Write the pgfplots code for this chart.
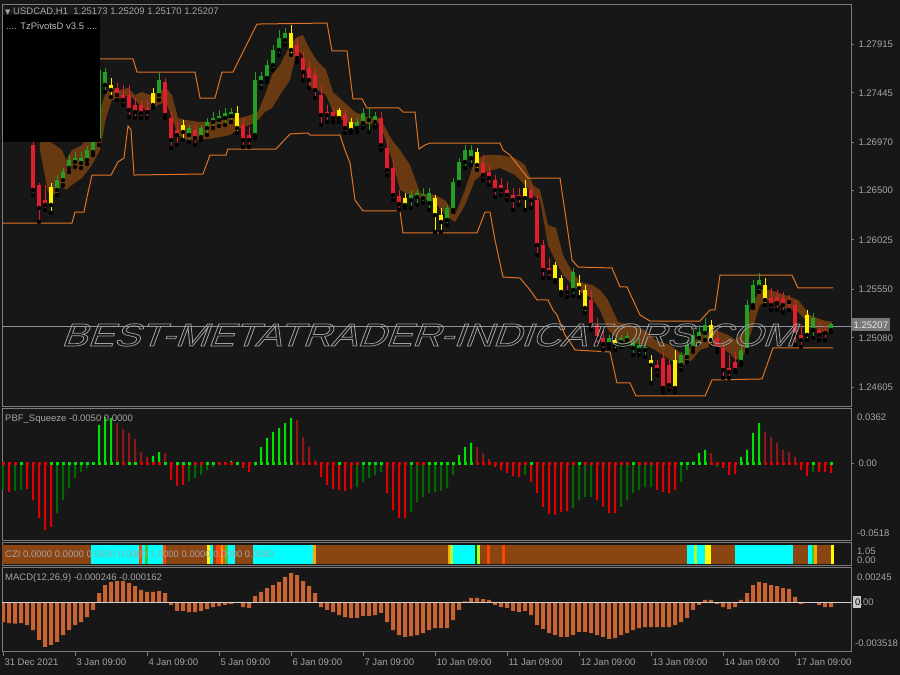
\documentclass[border=0pt]{standalone}
\usepackage{pgfplots}
\pgfplotsset{compat=1.18}
\usepackage{pgfplotstable}
\usepackage{fontspec}
\setmainfont{Liberation Sans}
\newfontfamily\symf{DejaVu Sans}
\newfontfamily\wmfont{Liberation Sans}[FakeSlant=0.3]

\definecolor{bg}{RGB}{23,23,23}
\definecolor{fr}{RGB}{125,125,125}
\definecolor{tx}{RGB}{165,165,165}
\definecolor{cgr}{RGB}{35,160,35}
\definecolor{crd}{RGB}{225,30,45}
\definecolor{cyl}{RGB}{255,240,0}
\definecolor{bandc}{RGB}{105,58,18}
\definecolor{piv}{RGB}{225,115,35}
\definecolor{sqg}{RGB}{0,225,0}
\definecolor{sqdg}{RGB}{0,105,0}
\definecolor{sqr}{RGB}{225,0,0}
\definecolor{sqdr}{RGB}{140,25,25}
\definecolor{macdc}{RGB}{200,100,50}
\definecolor{czb}{RGB}{139,69,19}
\definecolor{czc}{RGB}{0,255,255}
\definecolor{czo}{RGB}{255,69,0}
\definecolor{czor}{RGB}{255,165,0}
\definecolor{czy}{RGB}{255,255,0}
\definecolor{czg}{RGB}{50,205,50}
\definecolor{czdg}{RGB}{0,100,0}
\definecolor{czgy}{RGB}{173,255,47}
\definecolor{wmc}{RGB}{160,160,160}
\definecolor{bidc}{RGB}{140,150,160}
\definecolor{bidbox}{RGB}{120,120,120}
\definecolor{bidtx}{RGB}{235,235,235}
\definecolor{lbox}{RGB}{200,200,200}
\definecolor{pvtx}{RGB}{190,190,190}
\definecolor{zline}{RGB}{210,210,210}

\newcommand\tickfont{\fontsize{9.5bp}{11bp}\selectfont}

% hourly bars, x = hour index from 31 Dec; candles every second hour
\pgfplotstableread{
h o hi lo c k
10 1.26941 1.26989 1.26458 1.26507 0
12 1.26555 1.26574 1.26198 1.26333 0
14 1.26410 1.26555 1.26314 1.26362 0
16 1.26362 1.26574 1.26285 1.26536 2
18 1.26507 1.26651 1.26458 1.26603 1
20 1.26603 1.26719 1.26555 1.26680 1
22 1.26719 1.26844 1.26680 1.26796 1
24 1.26777 1.26873 1.26728 1.26815 1
26 1.26767 1.26873 1.26719 1.26815 1
28 1.26796 1.26931 1.26757 1.26893 1
30 1.26873 1.27037 1.26844 1.26989 1
32 1.26989 1.27742 1.26941 1.27665 1
34 1.27645 1.27684 1.27452 1.27520 1
36 1.27520 1.27587 1.27404 1.27472 2
38 1.27491 1.27539 1.27375 1.27423 0
40 1.27423 1.27520 1.27327 1.27375 0
42 1.27423 1.27520 1.27211 1.27279 0
44 1.27327 1.27394 1.27201 1.27259 0
46 1.27327 1.27375 1.27201 1.27250 0
48 1.27259 1.27375 1.27201 1.27298 0
50 1.27327 1.27491 1.27298 1.27443 2
52 1.27423 1.27636 1.27375 1.27568 1
54 1.27549 1.27587 1.27201 1.27230 0
56 1.27201 1.27259 1.26912 1.26989 0
58 1.27037 1.27163 1.26941 1.27086 0
60 1.27066 1.27182 1.26989 1.27134 2
62 1.27037 1.27134 1.26970 1.27105 1
64 1.27086 1.27134 1.26941 1.27008 0
66 1.27018 1.27134 1.26989 1.27105 1
68 1.27105 1.27201 1.27037 1.27163 1
70 1.27163 1.27259 1.27105 1.27201 1
72 1.27182 1.27279 1.27124 1.27221 1
74 1.27201 1.27298 1.27134 1.27250 1
76 1.27221 1.27298 1.27163 1.27259 1
78 1.27250 1.27317 1.27057 1.27105 2
80 1.27134 1.27201 1.26921 1.26989 0
82 1.26989 1.27115 1.26921 1.27037 0
84 1.27037 1.27645 1.27008 1.27568 1
86 1.27549 1.27645 1.27491 1.27607 1
88 1.27587 1.27761 1.27549 1.27713 1
90 1.27713 1.27906 1.27665 1.27858 1
92 1.27858 1.28051 1.27809 1.27973 1
94 1.27954 1.28070 1.27906 1.28022 1
96 1.28022 1.28099 1.27809 1.27858 2
98 1.27906 1.27973 1.27742 1.27780 0
100 1.27780 1.27838 1.27568 1.27645 0
102 1.27684 1.27761 1.27491 1.27568 0
104 1.27616 1.27684 1.27394 1.27472 0
106 1.27423 1.27520 1.27134 1.27230 0
108 1.27230 1.27327 1.27163 1.27259 0
110 1.27259 1.27298 1.27163 1.27201 0
112 1.27201 1.27298 1.27163 1.27279 2
114 1.27230 1.27279 1.27057 1.27105 0
116 1.27086 1.27201 1.27057 1.27163 2
118 1.27105 1.27201 1.27066 1.27163 1
120 1.27153 1.27298 1.27105 1.27250 1
122 1.27201 1.27298 1.27066 1.27182 1
124 1.27163 1.27259 1.27115 1.27221 1
126 1.27201 1.27259 1.26893 1.26941 0
128 1.26912 1.26989 1.26651 1.26700 0
130 1.26719 1.26796 1.26410 1.26458 0
132 1.26449 1.26507 1.26314 1.26371 0
134 1.26362 1.26478 1.26333 1.26429 2
136 1.26410 1.26507 1.26333 1.26458 1
138 1.26439 1.26507 1.26362 1.26478 1
140 1.26429 1.26526 1.26381 1.26458 1
142 1.26381 1.26526 1.26314 1.26478 1
144 1.26429 1.26458 1.26101 1.26265 2
146 1.26265 1.26333 1.26101 1.26198 2
148 1.26217 1.26362 1.26169 1.26333 1
150 1.26314 1.26622 1.26294 1.26584 1
152 1.26584 1.26815 1.26555 1.26777 1
154 1.26777 1.26941 1.26719 1.26893 1
156 1.26815 1.26941 1.26748 1.26893 1
158 1.26873 1.26912 1.26700 1.26748 2
160 1.26767 1.26844 1.26603 1.26651 0
162 1.26680 1.26748 1.26555 1.26622 0
164 1.26603 1.26651 1.26439 1.26507 0
166 1.26555 1.26622 1.26458 1.26507 0
168 1.26507 1.26584 1.26410 1.26458 0
170 1.26458 1.26526 1.26314 1.26410 0
172 1.26458 1.26526 1.26362 1.26429 0
174 1.26429 1.26603 1.26314 1.26526 2
176 1.26507 1.26555 1.26333 1.26410 0
178 1.26410 1.26458 1.25879 1.25976 0
180 1.25976 1.26024 1.25657 1.25735 0
182 1.25754 1.25850 1.25657 1.25715 0
184 1.25783 1.25812 1.25619 1.25638 2
186 1.25657 1.25686 1.25493 1.25522 2
188 1.25522 1.25590 1.25474 1.25542 0
190 1.25542 1.25754 1.25484 1.25715 1
192 1.25609 1.25686 1.25474 1.25561 2
194 1.25542 1.25590 1.25320 1.25368 2
196 1.25445 1.25542 1.25156 1.25204 0
198 1.25204 1.25271 1.25011 1.25079 0
200 1.25079 1.25156 1.24963 1.25020 0
202 1.25020 1.25108 1.24982 1.25079 1
204 1.25011 1.25079 1.24963 1.25059 2
206 1.25040 1.25108 1.24992 1.25079 1
208 1.25059 1.25136 1.25011 1.25098 1
210 1.24982 1.25079 1.24914 1.25040 1
212 1.25011 1.25079 1.24914 1.24963 1
214 1.24963 1.25040 1.24895 1.24992 1
216 1.24866 1.24914 1.24644 1.24818 2
218 1.24818 1.24866 1.24721 1.24770 0
220 1.24885 1.24943 1.24557 1.24596 0
222 1.24818 1.24866 1.24577 1.24625 0
224 1.24596 1.24963 1.24557 1.24866 2
226 1.24818 1.24943 1.24770 1.24914 1
228 1.24895 1.25059 1.24847 1.25011 1
230 1.24982 1.25156 1.24943 1.25108 1
232 1.25079 1.25204 1.25011 1.25136 1
234 1.25127 1.25271 1.25059 1.25204 1
236 1.25204 1.25252 1.25011 1.25059 2
238 1.25079 1.25156 1.24943 1.24982 0
240 1.24982 1.25059 1.24692 1.24770 0
242 1.24789 1.24914 1.24692 1.24750 0
244 1.24770 1.24943 1.24750 1.24847 0
246 1.24847 1.25011 1.24818 1.24963 1
248 1.24963 1.25445 1.24943 1.25397 1
250 1.25397 1.25638 1.25368 1.25590 1
252 1.25571 1.25706 1.25522 1.25638 1
254 1.25590 1.25657 1.25397 1.25445 2
256 1.25464 1.25561 1.25349 1.25397 0
258 1.25416 1.25542 1.25349 1.25474 0
260 1.25464 1.25522 1.25329 1.25397 0
262 1.25426 1.25493 1.25349 1.25445 0
264 1.25397 1.25445 1.25011 1.25108 0
266 1.25108 1.25204 1.24992 1.25059 0
268 1.25108 1.25349 1.25059 1.25300 2
270 1.25271 1.25320 1.25079 1.25156 1
272 1.25156 1.25233 1.25059 1.25108 0
274 1.25127 1.25204 1.25059 1.25156 0
276 1.25156 1.25223 1.25136 1.25207 1
}\candles

% cloud band outline: upper edge left to right, then lower edge right to left
\pgfplotstableread{
h p
12.33 1.26989
15 1.26989
17.33 1.26941
19.67 1.26893
21 1.26796
23 1.26893
26.33 1.26941
29.67 1.27086
32.33 1.27279
34.33 1.27452
36.33 1.27491
39 1.27472
41.67 1.27491
44 1.27423
46.33 1.27452
49 1.27423
51.67 1.27452
54.33 1.27491
56.33 1.27423
58.33 1.27201
61 1.27182
65.67 1.27163
70.67 1.27163
75.67 1.27201
79 1.27201
82.33 1.27230
85 1.27259
87.33 1.27423
89.67 1.27616
92.33 1.27713
95.67 1.27906
98 1.27983
100 1.28002
102.33 1.27858
105 1.27742
107.67 1.27665
110 1.27452
114 1.27346
117.33 1.27259
120.67 1.27211
125.67 1.27201
129.67 1.26989
132.33 1.26893
135.67 1.26748
139 1.26478
144 1.26458
147.33 1.26410
150.67 1.26265
154 1.26507
157.33 1.26796
160.67 1.26844
165.67 1.26844
170.67 1.26815
174 1.26748
176.67 1.26555
179 1.26507
181.67 1.26169
184.33 1.26140
186.67 1.25879
189 1.25754
192.33 1.25619
196.33 1.25590
199 1.25542
201.67 1.25445
205 1.25233
209 1.25204
214 1.25156
217.33 1.25059
222.33 1.25011
226.67 1.24914
229.67 1.25011
232.33 1.25108
237.33 1.25156
241.67 1.25108
244.33 1.25059
247 1.25156
249.67 1.25397
252.33 1.25542
255.67 1.25542
260.67 1.25493
265 1.25445
269 1.25300
273 1.25252
276.33 1.25233
276.33 1.25136
273 1.25136
269 1.25204
265 1.25329
260.67 1.25368
255.67 1.25445
252.33 1.25397
249.67 1.25156
247 1.24914
244.33 1.24866
241.67 1.24943
237.33 1.25011
232.33 1.24963
229.67 1.24866
226.67 1.24818
222.33 1.24866
217.33 1.24963
214 1.25011
209 1.25030
205 1.25059
201.67 1.25156
199 1.25349
196.33 1.25464
192.33 1.25522
189 1.25619
186.67 1.25686
184.33 1.25812
181.67 1.25976
179 1.26410
176.67 1.26458
174 1.26555
170.67 1.26651
165.67 1.26719
160.67 1.26680
157.33 1.26603
154 1.26362
150.67 1.26198
147.33 1.26265
144 1.26391
139 1.26429
135.67 1.26458
132.33 1.26507
129.67 1.26796
125.67 1.27153
120.67 1.27143
117.33 1.27134
114 1.27163
110 1.27259
107.67 1.27423
105 1.27472
102.33 1.27491
100 1.27809
98 1.27858
95.67 1.27568
92.33 1.27423
89.67 1.27298
87.33 1.27259
85 1.27182
82.33 1.27134
79 1.27105
75.67 1.27037
70.67 1.27008
65.67 1.26989
61 1.26989
58.33 1.27037
56.33 1.27201
54.33 1.27356
51.67 1.27327
49 1.27279
46.33 1.27298
44 1.27375
41.67 1.27423
39 1.27394
36.33 1.27375
34.33 1.27201
32.33 1.26893
29.67 1.26748
26.33 1.26622
23 1.26555
21 1.26507
19.67 1.26555
17.33 1.26458
15 1.26487
12.33 1.26893
}\band

% squeeze: v value, k colour (0 green,1 dark green,2 red,3 dark red), d dot (1 green,0 red)
\pgfplotstableread{
h v k d
0 -0.0184 1 0
2 -0.0198 2 0
4 -0.0190 1 0
6 -0.0184 1 1
8 -0.0178 2 0
10 -0.0253 2 0
12 -0.0376 2 0
14 -0.0458 2 0
16 -0.0437 2 1
18 -0.0342 1 1
20 -0.0253 1 1
22 -0.0171 1 1
24 -0.0102 1 1
26 -0.0061 1 1
28 -0.0034 1 1
30 -0.0007 1 1
32 0.0260 0 1
34 0.0314 0 1
36 0.0307 0 1
38 0.0273 3 1
40 0.0232 3 0
42 0.0205 3 1
44 0.0164 3 1
46 0.0075 3 0
48 0.0041 3 0
50 0.0048 0 0
52 0.0075 0 0
54 0.0068 3 1
56 -0.0116 2 0
58 -0.0157 2 1
60 -0.0150 2 1
62 -0.0123 1 1
64 -0.0102 1 0
66 -0.0082 1 0
68 -0.0048 1 1
70 -0.0027 1 1
72 -0.0010 1 0
74 0.0007 0 0
76 0.0014 0 0
78 -0.0014 2 1
80 -0.0034 2 0
82 -0.0061 2 0
84 -0.0020 1 1
86 0.0109 0 1
88 0.0171 0 1
90 0.0212 0 1
92 0.0239 0 1
94 0.0273 0 1
96 0.0307 0 1
98 0.0294 3 0
100 0.0178 3 0
102 0.0109 3 0
104 0.0020 3 0
106 -0.0096 2 0
108 -0.0150 2 0
110 -0.0178 2 0
112 -0.0184 2 1
114 -0.0191 2 0
116 -0.0178 2 0
118 -0.0164 1 0
120 -0.0130 1 1
122 -0.0102 1 1
124 -0.0082 1 1
126 -0.0061 1 1
128 -0.0205 2 0
130 -0.0321 2 0
132 -0.0376 2 0
134 -0.0376 2 0
136 -0.0335 1 1
138 -0.0266 1 0
140 -0.0232 1 0
142 -0.0205 1 1
144 -0.0198 1 1
146 -0.0191 1 1
148 -0.0171 1 1
150 -0.0082 1 1
152 0.0055 0 1
154 0.0109 0 1
156 0.0137 0 1
158 0.0109 3 0
160 0.0068 3 0
162 0.0027 3 0
164 -0.0027 2 0
166 -0.0048 2 0
168 -0.0068 2 0
170 -0.0089 2 0
172 -0.0096 2 0
174 -0.0082 1 0
176 -0.0130 2 1
178 -0.0205 2 0
180 -0.0300 2 0
182 -0.0348 2 0
184 -0.0355 2 0
186 -0.0335 2 0
188 -0.0328 2 0
190 -0.0307 1 0
192 -0.0253 1 1
194 -0.0232 1 0
196 -0.0232 1 0
198 -0.0253 2 0
200 -0.0300 2 0
202 -0.0342 2 0
204 -0.0342 2 0
206 -0.0300 1 0
208 -0.0253 1 0
210 -0.0205 1 1
212 -0.0184 1 0
214 -0.0164 1 0
216 -0.0164 1 0
218 -0.0184 2 0
220 -0.0198 2 0
222 -0.0205 2 0
224 -0.0184 2 0
226 -0.0130 1 1
228 -0.0048 1 1
230 0.0010 0 1
232 0.0068 0 1
234 0.0089 0 1
236 0.0068 3 0
238 -0.0027 1 0
240 -0.0034 2 0
242 -0.0082 2 0
244 -0.0075 2 0
246 0.0041 0 1
248 0.0089 0 1
250 0.0205 0 1
252 0.0273 0 1
254 0.0212 3 0
256 0.0178 3 0
258 0.0137 3 0
260 0.0089 3 0
262 0.0075 3 0
264 0.0041 3 0
266 -0.0048 2 0
268 -0.0089 2 0
270 -0.0061 1 1
272 -0.0061 2 0
274 -0.0061 2 0
276 -0.0068 2 1
}\sq

\pgfplotstableread{
h m
0 -0.00148
2 -0.00155
4 -0.00160
6 -0.00155
8 -0.00170
10 -0.00207
12 -0.00280
14 -0.00332
16 -0.00317
18 -0.00295
20 -0.00244
22 -0.00207
24 -0.00170
26 -0.00148
28 -0.00111
30 -0.00059
32 0.00066
34 0.00125
36 0.00148
38 0.00155
40 0.00155
42 0.00140
44 0.00118
46 0.00089
48 0.00074
50 0.00074
52 0.00081
54 0.00066
56 -0.00022
58 -0.00066
60 -0.00066
62 -0.00074
64 -0.00074
66 -0.00066
68 -0.00052
70 -0.00037
72 -0.00030
74 -0.00022
76 -0.00015
78 -0.00007
80 -0.00037
82 -0.00044
84 0.00044
86 0.00074
88 0.00103
90 0.00125
92 0.00148
94 0.00185
96 0.00214
98 0.00199
100 0.00155
102 0.00118
104 0.00066
106 -0.00037
108 -0.00059
110 -0.00074
112 -0.00096
114 -0.00111
116 -0.00118
118 -0.00118
120 -0.00103
122 -0.00103
124 -0.00096
126 -0.00081
128 -0.00148
130 -0.00207
132 -0.00244
134 -0.00258
136 -0.00251
138 -0.00244
140 -0.00229
142 -0.00207
144 -0.00192
146 -0.00192
148 -0.00192
150 -0.00133
152 -0.00059
154 0.00004
156 0.00030
158 0.00030
160 0.00022
162 0.00015
164 -0.00022
166 -0.00037
168 -0.00044
170 -0.00066
172 -0.00074
174 -0.00066
176 -0.00096
178 -0.00170
180 -0.00199
182 -0.00229
184 -0.00244
186 -0.00258
188 -0.00258
190 -0.00244
192 -0.00221
194 -0.00221
196 -0.00229
198 -0.00244
200 -0.00258
202 -0.00273
204 -0.00266
206 -0.00244
208 -0.00229
210 -0.00207
212 -0.00192
214 -0.00185
216 -0.00185
218 -0.00185
220 -0.00185
222 -0.00185
224 -0.00170
226 -0.00148
228 -0.00118
230 -0.00059
232 -0.00022
234 0.00015
236 0.00015
238 -0.00015
240 -0.00037
242 -0.00052
244 -0.00037
246 0.00015
248 0.00066
250 0.00125
252 0.00148
254 0.00140
256 0.00125
258 0.00118
260 0.00103
262 0.00096
264 0.00037
266 -0.00015
268 -0.00007
270 -0.00007
272 -0.00022
274 -0.00037
276 -0.00037
}\macd

\newcommand\candleset[2]{%
  \addplot[only marks, mark=none, restrict expr to domain={\thisrow{k}}{#1:#1},
    error bars/.cd, y dir=plus, y explicit, error mark=none,
    error bar style={draw=#2, line width=1bp}]
    table[x=h, y=lo, y error expr={\thisrow{hi}-\thisrow{lo}}] {\candles};
  \addplot[only marks, mark=none, restrict expr to domain={\thisrow{k}}{#1:#1},
    error bars/.cd, y dir=plus, y explicit, error mark=none,
    error bar style={draw=#2, line width=4bp}]
    table[x=h, y expr={min(\thisrow{o},\thisrow{c})},
      y error expr={abs(\thisrow{c}-\thisrow{o})+0.00004}] {\candles};
}
\newcommand\sqset[2]{%
  \addplot[ybar, bar width=2bp, bar shift=0pt, fill=#2, draw=none,
    restrict expr to domain={\thisrow{k}}{#1:#1}] table[x=h, y=v] {\sq};
}
\newcommand\czi[3]{%
  \addplot[fill=#3, draw=none] coordinates {(#1,0) (#1,1) (#2,1) (#2,0)} -- cycle;
}

\pgfplotsset{
  mtpane/.style={
    scale only axis, width=849bp, anchor=north west,
    xmin=-0.3333, xmax=282.667,
    axis line style={draw=fr, line width=1bp},
    xtick=\empty,
    ytick pos=right, yticklabel pos=right,
    tick align=outside, major tick length=3bp,
    every tick/.style={draw=fr, line width=0.8bp},
    ticklabel style={font=\tickfont, text=tx},
    yticklabel style={anchor=west, xshift=1bp},
    scaled y ticks=false,
    clip=true,
  }
}

\begin{document}
\begin{tikzpicture}
\fill[bg] (0bp,0bp) rectangle (900bp,675bp);

% ---------- main price pane
\begin{axis}[mtpane, at={(2bp,670bp)}, height=401bp,
  ymin=1.24422, ymax=1.28292,
  ytick={1.24605,1.25080,1.25550,1.26025,1.26500,1.26970,1.27445,1.27915},
  yticklabels={1.24605,1.25080,1.25550,1.26025,1.26500,1.26970,1.27445,1.27915}]
  \addplot[fill=bandc, draw=none] table[x=h, y=p] {\band} -- cycle;
  % upper pivot channel
  \addplot[piv, line width=1bp] coordinates {
    (32.33,1.27771) (43.33,1.27771) (44.67,1.27645) (64,1.27645) (65.67,1.27394)
    (70.67,1.27394) (73,1.27645) (76.67,1.27645) (84.67,1.28108) (108,1.28118)
    (109.67,1.27848) (114.67,1.27848) (116.67,1.27385) (119.67,1.27385)
    (121.33,1.27298) (132,1.27298) (133.33,1.27259) (137.33,1.27259)
    (138.67,1.26902) (140.67,1.26941) (142.33,1.26960) (165.67,1.26960)
    (166.67,1.26893) (169,1.26844) (175,1.26622) (185.67,1.26622)
    (189.67,1.25831) (191.67,1.25763) (203,1.25754) (205.67,1.25571)
    (208,1.25571) (212.33,1.25300) (215.67,1.25242) (232.33,1.25242)
    (235.67,1.25349) (237.33,1.25349) (239,1.25686) (263,1.25686)
    (265,1.25561) (276.67,1.25561)};
  % lower pivot channel
  \addplot[piv, line width=1bp] coordinates {
    (-0.33,1.26188) (23,1.26188) (24,1.26294) (27,1.26294) (28,1.26439)
    (29.67,1.26651) (36,1.26651) (38.33,1.26777) (40.33,1.26815) (41.67,1.27124)
    (42.67,1.27086) (43.67,1.26651) (66.67,1.26661) (69,1.26844) (74.33,1.26844)
    (75,1.26902) (91,1.26902) (95.67,1.27047) (101.67,1.27057) (102.33,1.27037)
    (112.33,1.27037) (114,1.26893) (115.67,1.26767) (117.33,1.26410) (120,1.26304)
    (132.33,1.26304) (133.33,1.26092) (158,1.26092) (160.67,1.26294)
    (162.33,1.26294) (164,1.26024) (166.67,1.25667) (172.33,1.25657)
    (175.67,1.25542) (178,1.25445) (181.67,1.25445) (183.33,1.25349)
    (184.67,1.25300) (187.33,1.25108) (189,1.25040) (190.67,1.24963)
    (202.33,1.24943) (204.67,1.24644) (209,1.24644) (211,1.24519) (234,1.24519)
    (236.33,1.24673) (253,1.24683) (256.67,1.24982) (276.67,1.24982)};
  % bid line
  \addplot[bidc, line width=0.8bp] coordinates {(-1,1.25194) (284,1.25194)};
  \candleset{0}{crd}
  \candleset{1}{cgr}
  \candleset{2}{cyl}
\end{axis}

% watermark, outlined text on top of the price pane
\node[xscale=1.23, text=wmc, inner sep=0pt] at (428bp,340bp)
  {\wmfont\fontsize{32bp}{32bp}\selectfont
   \special{pdf:literal direct 1 Tr 0.7 w}BEST-METATRADER-INDICATORS.COM\special{pdf:literal direct 0 Tr}};

% ---------- PBF squeeze pane
\begin{axis}[mtpane, at={(2bp,266bp)}, height=132bp,
  ymin=-0.05327, ymax=0.03688, ytick={0}, yticklabels={0.00}]
  \sqset{1}{sqdg}
  \sqset{3}{sqdr}
  \sqset{0}{sqg}
  \sqset{2}{sqr}
  \addplot[only marks, mark=square*, mark size=1.1bp, color=sqr,
    restrict expr to domain={\thisrow{d}}{0:0}] table[x=h, y expr=0] {\sq};
  \addplot[only marks, mark=square*, mark size=1.1bp, color=sqg,
    restrict expr to domain={\thisrow{d}}{1:1}] table[x=h, y expr=0] {\sq};
\end{axis}

% ---------- CZI pane
\begin{axis}[mtpane, at={(2bp,132bp)}, height=23bp,
  ymin=-0.1, ymax=1.1, ytick=\empty]
  \czi{-0.33}{29.33}{czb}
  \czi{29.33}{45.33}{czc}
  \czi{45.33}{46.33}{czo}
  \czi{46.33}{47.33}{czc}
  \czi{47.33}{48.33}{czg}
  \czi{48.33}{53.33}{czc}
  \czi{53.33}{54.33}{czo}
  \czi{54.33}{68}{czb}
  \czi{68}{69}{czy}
  \czi{69}{70}{czc}
  \czi{70}{71}{czb}
  \czi{71}{72.67}{czo}
  \czi{72.67}{73.33}{czor}
  \czi{73.33}{74}{czo}
  \czi{74}{75}{czg}
  \czi{75}{77.33}{czc}
  \czi{77.33}{83.33}{czb}
  \czi{83.33}{103.33}{czc}
  \czi{103.33}{104.33}{czor}
  \czi{104.33}{148.33}{czb}
  \czi{148.33}{149}{czor}
  \czi{149}{150}{czgy}
  \czi{150}{157.33}{czc}
  \czi{157.33}{158}{czdg}
  \czi{158}{159}{czgy}
  \czi{159}{161.33}{czb}
  \czi{161.33}{162.33}{czo}
  \czi{162.33}{166.33}{czb}
  \czi{166.33}{167.33}{czo}
  \czi{167.33}{228}{czb}
  \czi{228}{230.33}{czc}
  \czi{230.33}{231.33}{czgy}
  \czi{231.33}{234}{czc}
  \czi{234}{236}{czy}
  \czi{236}{244}{czb}
  \czi{244}{263.33}{czc}
  \czi{263.33}{268.33}{czb}
  \czi{268.33}{269.67}{czc}
  \czi{269.67}{270.33}{czg}
  \czi{270.33}{271.33}{czor}
  \czi{271.33}{276}{czb}
  \czi{276}{277}{czy}
\end{axis}

% ---------- MACD pane
\begin{axis}[mtpane, at={(2bp,107bp)}, height=84bp,
  ymin=-0.00369, ymax=0.00251, ytick=\empty,
  xtick={0,24,48,72,96,120,144,168,192,216,240,264},
  xticklabels={31 Dec 2021,3 Jan 09:00,4 Jan 09:00,5 Jan 09:00,6 Jan 09:00,7 Jan 09:00,
    10 Jan 09:00,11 Jan 09:00,12 Jan 09:00,13 Jan 09:00,14 Jan 09:00,17 Jan 09:00},
  xtick pos=bottom, major tick length=4bp,
  xticklabel style={anchor=north west, xshift=-2bp, yshift=1bp}]
  \addplot[ybar, bar width=4bp, bar shift=0pt, fill=macdc, draw=none] table[x=h, y=m] {\macd};
  \addplot[zline, line width=1bp] coordinates {(-1,0) (284,0)};
\end{axis}

% ---------- texts drawn by the terminal
\node[anchor=west, text=tx, font=\tickfont, inner sep=0pt] at (5bp,663bp)
  {{\symf\fontsize{7bp}{8bp}\selectfont ▼}\ USDCAD,H1\ \ 1.25173 1.25209 1.25170 1.25207};
\fill[black] (3bp,660bp) rectangle (100bp,533bp);
\node[anchor=west, text=pvtx, font=\tickfont, inner sep=0pt] at (6bp,649bp)
  {.... TzPivotsD v3.5 ....};
\node[anchor=west, fill=bidbox, text=bidtx,
  font=\tickfont, inner sep=1.5bp, minimum height=13bp] at (852bp,350bp) {1.25207};

\node[anchor=west, text=tx, font=\tickfont, inner sep=0pt] at (5bp,256bp) {PBF\_Squeeze -0.0050 0.0000};
\node[anchor=west, text=tx, font=\tickfont, inner sep=0pt] at (857bp,258bp) {0.0362};
\node[anchor=west, text=tx, font=\tickfont, inner sep=0pt] at (857bp,142bp) {-0.0518};

\node[anchor=west, text=tx, font=\tickfont, inner sep=0pt] at (5bp,121bp)
  {CZI 0.0000 0.0000 0.0000 0.0000 1.0000 0.0000 0.0000 0.0000};
\node[anchor=west, text=tx, font=\tickfont, inner sep=0pt] at (857bp,124bp) {1.05};
\node[anchor=west, text=tx, font=\tickfont, inner sep=0pt] at (857bp,115bp) {0.00};

\node[anchor=west, text=tx, font=\tickfont, inner sep=0pt] at (5bp,97bp) {MACD(12,26,9) -0.000246 -0.000162};
\node[anchor=west, text=tx, font=\tickfont, inner sep=0pt] at (857bp,98bp) {0.00245};
\fill[lbox] (853bp,67bp) rectangle (861bp,79bp);
\node[anchor=west, text=tx, font=\tickfont, inner sep=0pt] at (855bp,73bp) {\textcolor{black}{0}.00};
\node[anchor=west, text=tx, font=\tickfont, inner sep=0pt] at (855bp,32bp) {-0.003518};

\pgfresetboundingbox
\path[use as bounding box] (0bp,0bp) rectangle (900bp,675bp);
\end{tikzpicture}
\end{document}
